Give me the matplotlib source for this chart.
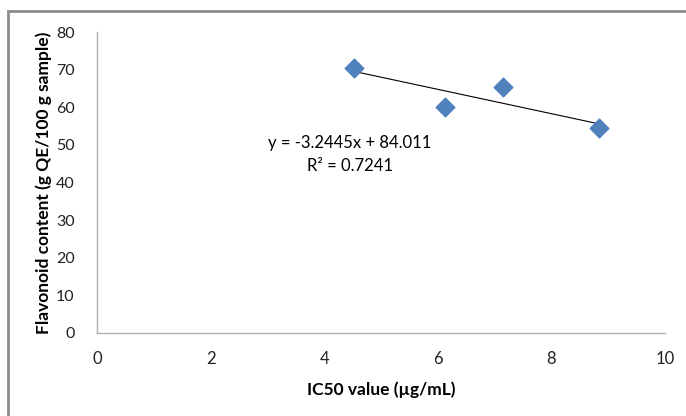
import numpy as np
import matplotlib.pyplot as plt
from matplotlib.patches import Rectangle

plt.rcParams['font.family'] = ['Lato', 'DejaVu Sans']

# IC50 values and flavonoid content
ic50 = [4.52, 6.13, 7.15, 8.84]
flavonoid = [70.5, 60.1, 65.4, 54.5]
x_ticks = [0, 2, 4, 6, 8, 10]
y_ticks = [0, 10, 20, 30, 40, 50, 60, 70, 80]

fig = plt.figure(figsize=(6.86, 4.16), dpi=100)
ax = fig.add_axes([97 / 686, 1 - 333 / 416, 568 / 686, 301 / 416])

# linear trendline over the data range
slope, intercept = np.polyfit(ic50, flavonoid, 1)
xs = np.array([min(ic50), max(ic50)])
ax.plot(xs, slope * xs + intercept, color='black', lw=0.8, zorder=2)
ax.scatter(ic50, flavonoid, marker='D', s=90, color='#4F81BD', zorder=3)

ax.text(4.45, 50.5, 'y = -3.2445x + 84.011', ha='center', va='center', fontsize=12)
ax.text(4.45, 44.3, 'R² = 0.7241', ha='center', va='center', fontsize=12)

ax.set_xlim(0, 10)
ax.set_ylim(0, 80)
ax.set_xticks(x_ticks)
ax.set_yticks(y_ticks)
ax.tick_params(length=0, labelsize=12, colors='#222222', pad=13)
ax.tick_params(axis='y', labelsize=11.5, pad=16)
for s in ['top', 'right']:
    ax.spines[s].set_visible(False)
for s in ['left', 'bottom']:
    ax.spines[s].set_color('#B0B0B0')
    ax.spines[s].set_linewidth(1)

ax.set_xlabel('IC50 value (µg/mL)', fontsize=12.5, fontweight='bold', labelpad=10)
ax.set_ylabel('Flavonoid content (g QE/100 g sample)', fontsize=12.5, fontweight='bold', labelpad=3)

# outer chart border (cropped on right and bottom)
fig.patches.append(Rectangle((7.5 / 686, -0.1), 1.2, 1.1 - 10.5 / 416, transform=fig.transFigure,
                             fill=False, edgecolor='#8C8C8C', lw=2, clip_on=False))

fig.savefig('out.png', dpi=100)
